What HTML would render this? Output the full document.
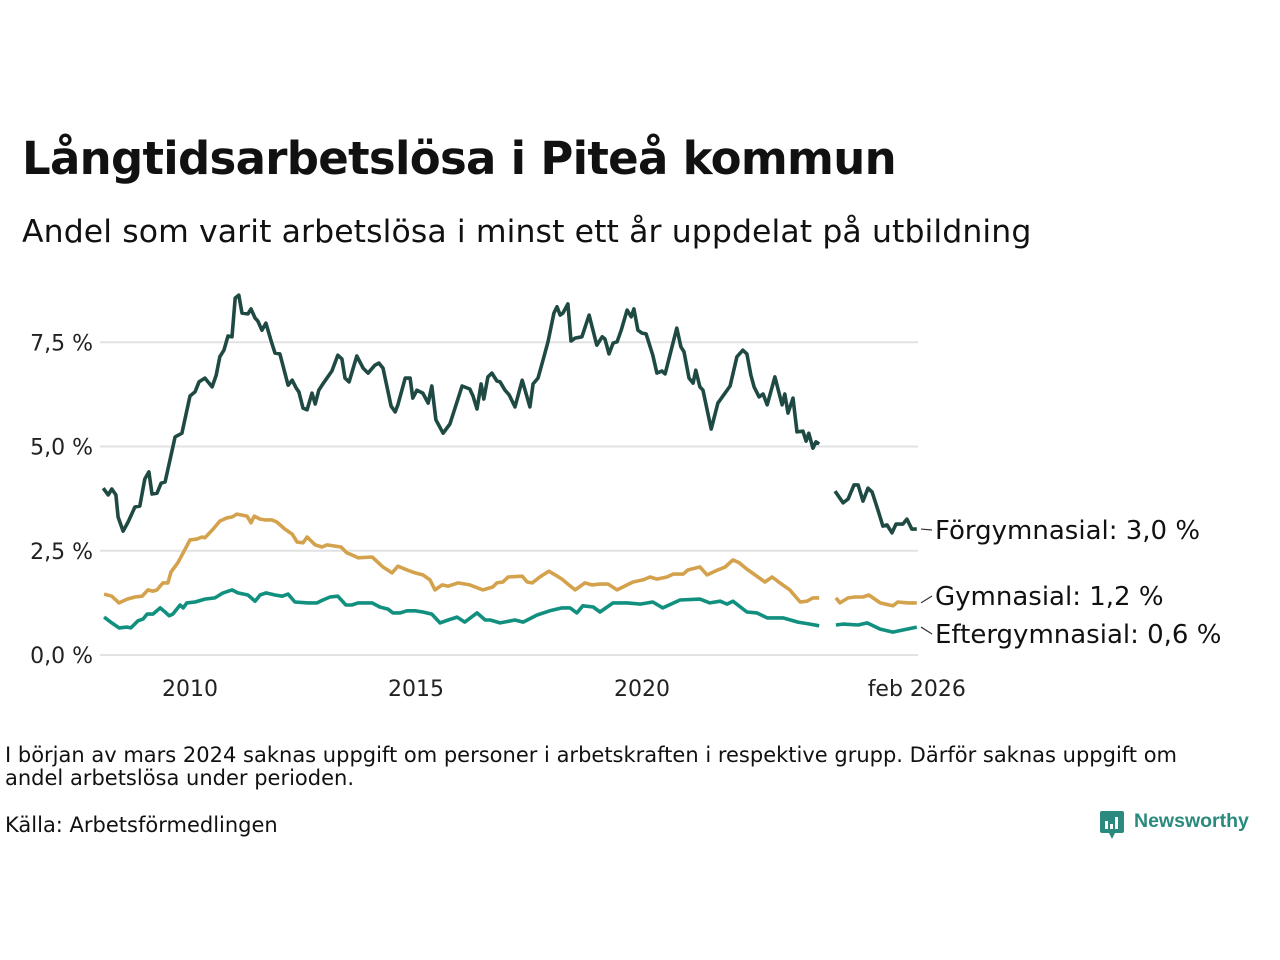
<!DOCTYPE html>
<html><head><meta charset="utf-8"><style>
body{margin:0;background:#fff;width:1280px;height:960px;overflow:hidden;font-family:"Liberation Sans","DejaVu Sans",sans-serif;color:#111}
.t{position:absolute;white-space:nowrap}
</style></head><body>
<div class="t" style="left:22px;top:132px;font-size:45px;font-weight:bold;font-family:'DejaVu Sans',sans-serif;letter-spacing:-0.7px">Långtidsarbetslösa i Piteå kommun</div>
<div class="t" style="left:22px;top:214px;font-size:31.5px;font-family:'DejaVu Sans',sans-serif;letter-spacing:0.1px">Andel som varit arbetslösa i minst ett år uppdelat på utbildning</div>
<svg id="chart" width="1280" height="720" style="position:absolute;left:0;top:0"></svg>
<div class="t" style="left:5px;top:744px;font-size:21px;line-height:23px;font-family:'DejaVu Sans',sans-serif;white-space:normal;width:1235px">I början av mars 2024 saknas uppgift om personer i arbetskraften i respektive grupp. Därför saknas uppgift om andel arbetslösa under perioden.</div>
<div class="t" style="left:5px;top:813px;font-size:21px;font-family:'DejaVu Sans',sans-serif">Källa: Arbetsförmedlingen</div>
<div style="position:absolute;left:1099px;top:810px;height:30px">
<svg width="28" height="30" style="position:absolute;left:0;top:0"><rect x="1" y="1" width="24" height="22" rx="2" fill="#2a8a7e"/><polygon points="10,23 16,23 13,29" fill="#2a8a7e"/><rect x="6" y="11" width="3" height="8" fill="#fff"/><rect x="11" y="14" width="3" height="5" fill="#fff"/><rect x="16" y="7" width="3" height="12" fill="#fff"/></svg>
<span class="t" style="left:35px;top:0;font-size:19.5px;font-weight:bold;color:#2a8a7e;font-family:'Liberation Sans',sans-serif">Newsworthy</span></div>
<script>
const yTicks=[0,2.5,5,7.5];
const yTickLabels=["0,0 %","2,5 %","5,0 %","7,5 %"];
const xTicks=[2010,2015,2020,2026.08];
const xTickLabels=["2010","2015","2020","feb 2026"];
const forgYears=[2008.08,2008.19,2008.27,2008.36,2008.41,2008.52,2008.63,2008.78,2008.89,2009.00,2009.09,2009.16,2009.27,2009.36,2009.45,2009.67,2009.82,2010.00,2010.11,2010.20,2010.33,2010.49,2010.58,2010.66,2010.75,2010.84,2010.93,2011.00,2011.08,2011.15,2011.28,2011.35,2011.44,2011.50,2011.59,2011.68,2011.81,2011.88,2011.99,2012.17,2012.26,2012.35,2012.41,2012.50,2012.59,2012.70,2012.77,2012.85,2012.94,2013.14,2013.27,2013.36,2013.43,2013.52,2013.69,2013.83,2013.94,2014.09,2014.18,2014.27,2014.45,2014.54,2014.60,2014.76,2014.87,2014.93,2015.02,2015.15,2015.27,2015.35,2015.44,2015.60,2015.75,2016.02,2016.19,2016.26,2016.35,2016.44,2016.50,2016.59,2016.68,2016.79,2016.86,2016.97,2017.06,2017.19,2017.35,2017.52,2017.59,2017.70,2017.81,2017.92,2018.05,2018.12,2018.19,2018.25,2018.36,2018.43,2018.52,2018.67,2018.83,2019.00,2019.12,2019.18,2019.27,2019.36,2019.45,2019.54,2019.67,2019.76,2019.82,2019.91,2020.00,2020.09,2020.24,2020.33,2020.44,2020.51,2020.77,2020.86,2020.93,2021.04,2021.13,2021.19,2021.28,2021.35,2021.53,2021.68,2021.81,2021.95,2022.10,2022.23,2022.32,2022.41,2022.48,2022.59,2022.68,2022.77,2022.94,2023.10,2023.16,2023.23,2023.34,2023.43,2023.56,2023.63,2023.69,2023.78,2023.85,2023.92,2024.10,2024.27,2024.45,2024.56,2024.69,2024.78,2024.89,2025.00,2025.09,2025.22,2025.33,2025.42,2025.53,2025.62,2025.77,2025.86,2025.97,2026.08];
const forgValues=[4.00,3.84,3.98,3.84,3.31,2.97,3.19,3.55,3.57,4.22,4.39,3.86,3.88,4.12,4.15,5.23,5.32,6.21,6.31,6.55,6.64,6.43,6.71,7.15,7.31,7.65,7.63,8.56,8.63,8.20,8.18,8.30,8.08,8.01,7.79,7.96,7.48,7.24,7.22,6.47,6.59,6.40,6.31,5.92,5.88,6.28,6.02,6.35,6.50,6.81,7.19,7.10,6.64,6.55,7.17,6.88,6.76,6.95,7.00,6.88,5.97,5.83,6.00,6.64,6.64,6.16,6.35,6.28,6.04,6.45,5.64,5.32,5.54,6.45,6.38,6.21,5.90,6.50,6.14,6.67,6.76,6.57,6.55,6.35,6.24,5.95,6.59,5.95,6.50,6.64,7.07,7.51,8.20,8.35,8.15,8.20,8.42,7.53,7.60,7.63,8.15,7.43,7.63,7.58,7.22,7.48,7.51,7.79,8.27,8.11,8.30,7.79,7.72,7.70,7.19,6.76,6.81,6.74,7.84,7.39,7.27,6.64,6.52,6.83,6.43,6.35,5.42,6.04,6.24,6.45,7.15,7.31,7.22,6.71,6.43,6.19,6.26,6.00,6.67,6.00,6.26,5.80,6.16,5.35,5.37,5.13,5.32,4.96,5.11,5.06,null,3.93,3.65,3.74,4.08,4.08,3.69,4.00,3.91,3.48,3.09,3.12,2.93,3.14,3.14,3.26,3.02,3.02];
const gymYears=[2008.10,2008.27,2008.43,2008.61,2008.78,2008.94,2009.07,2009.18,2009.27,2009.40,2009.51,2009.58,2009.73,2009.85,2010.00,2010.15,2010.27,2010.33,2010.51,2010.66,2010.82,2010.93,2011.04,2011.26,2011.35,2011.42,2011.55,2011.66,2011.81,2011.92,2012.10,2012.26,2012.37,2012.50,2012.59,2012.77,2012.92,2013.03,2013.34,2013.47,2013.58,2013.72,2014.03,2014.27,2014.47,2014.60,2014.80,2014.98,2015.15,2015.31,2015.42,2015.58,2015.71,2015.93,2016.19,2016.48,2016.70,2016.79,2016.92,2017.04,2017.35,2017.46,2017.57,2017.74,2017.94,2018.08,2018.23,2018.36,2018.52,2018.74,2018.89,2019.07,2019.25,2019.45,2019.67,2019.80,2020.02,2020.18,2020.33,2020.55,2020.69,2020.91,2021.02,2021.28,2021.44,2021.68,2021.84,2022.01,2022.15,2022.32,2022.50,2022.72,2022.88,2023.05,2023.27,2023.50,2023.65,2023.78,2023.92,2024.10,2024.29,2024.38,2024.56,2024.71,2024.89,2025.02,2025.27,2025.55,2025.66,2025.88,2026.08];
const gymValues=[1.46,1.41,1.25,1.34,1.39,1.41,1.56,1.53,1.56,1.73,1.73,1.99,2.21,2.45,2.76,2.78,2.83,2.81,3.02,3.21,3.29,3.31,3.38,3.33,3.17,3.33,3.26,3.24,3.24,3.19,3.02,2.90,2.71,2.69,2.83,2.64,2.59,2.64,2.59,2.45,2.40,2.33,2.35,2.11,1.97,2.13,2.04,1.97,1.92,1.80,1.56,1.68,1.65,1.73,1.68,1.56,1.63,1.73,1.75,1.87,1.89,1.75,1.73,1.87,2.01,1.92,1.82,1.70,1.56,1.73,1.68,1.70,1.70,1.56,1.68,1.75,1.80,1.87,1.82,1.87,1.94,1.94,2.04,2.11,1.92,2.04,2.11,2.28,2.21,2.06,1.92,1.75,1.87,1.73,1.56,1.27,1.29,1.37,1.37,null,1.37,1.25,1.37,1.39,1.39,1.44,1.25,1.18,1.27,1.25,1.25];
const eftYears=[2008.10,2008.27,2008.43,2008.61,2008.69,2008.85,2008.96,2009.05,2009.18,2009.34,2009.45,2009.54,2009.62,2009.78,2009.85,2009.93,2010.11,2010.33,2010.55,2010.73,2010.93,2011.06,2011.28,2011.44,2011.55,2011.68,2011.88,2012.04,2012.17,2012.32,2012.61,2012.81,2012.94,2013.10,2013.27,2013.45,2013.58,2013.72,2014.03,2014.20,2014.38,2014.49,2014.65,2014.80,2014.98,2015.15,2015.35,2015.53,2015.71,2015.91,2016.08,2016.35,2016.53,2016.64,2016.86,2017.19,2017.37,2017.68,2017.96,2018.23,2018.41,2018.56,2018.69,2018.92,2019.07,2019.36,2019.67,2019.96,2020.24,2020.46,2020.84,2021.28,2021.50,2021.73,2021.88,2022.01,2022.32,2022.54,2022.77,2023.12,2023.45,2023.72,2023.92,2024.10,2024.29,2024.45,2024.78,2024.98,2025.27,2025.55,2025.77,2026.08];
const eftValues=[0.91,0.77,0.65,0.67,0.65,0.82,0.86,0.98,0.98,1.13,1.03,0.94,0.98,1.20,1.13,1.25,1.27,1.34,1.37,1.49,1.56,1.49,1.44,1.29,1.44,1.49,1.44,1.41,1.46,1.27,1.25,1.25,1.32,1.39,1.41,1.20,1.20,1.25,1.25,1.15,1.10,1.01,1.01,1.06,1.06,1.03,0.98,0.77,0.84,0.91,0.79,1.01,0.84,0.84,0.77,0.84,0.79,0.96,1.06,1.13,1.13,1.01,1.18,1.15,1.03,1.25,1.25,1.22,1.27,1.13,1.32,1.34,1.25,1.29,1.22,1.29,1.03,1.01,0.89,0.89,0.79,0.74,0.70,null,0.72,0.74,0.72,0.77,0.62,0.55,0.60,0.67];
const seriesNames=["Förgymnasial","Gymnasial","Eftergymnasial"];
const lastLabels=["Förgymnasial: 3,0 %","Gymnasial: 1,2 %","Eftergymnasial: 0,6 %"];
const NS="http://www.w3.org/2000/svg";
const svg=document.getElementById('chart');
const X=y=>190+(y-2010)*45.2;
const Y=v=>655-v*41.7;
function mk(tag,attrs){const e=document.createElementNS(NS,tag);for(const k in attrs)e.setAttribute(k,attrs[k]);svg.appendChild(e);return e;}
yTicks.forEach((v,i)=>{
  const g=mk('line',{x1:100,x2:918,y1:Y(v),y2:Y(v),stroke:'#e2e2e4','stroke-width':2});
  
  
  const t=mk('text',{x:93,y:Y(v)+8,'text-anchor':'end','font-size':22,fill:'#222','font-family':'DejaVu Sans, sans-serif'});
  t.textContent=yTickLabels[i];
  
  
});
xTicks.forEach((v,i)=>{
  const t=mk('text',{x:X(v),y:696,'text-anchor':'middle','font-size':22,fill:'#222','font-family':'DejaVu Sans, sans-serif'});
  t.textContent=xTickLabels[i];
  
  
});
const colors=["#1f4a43","#d4a24c","#12907f"];
const all=[[forgYears,forgValues],[gymYears,gymValues],[eftYears,eftValues]];
const labelY=[530,596,634];
all.forEach((s,si)=>{
  let d="",pen=false;
  s[0].forEach((yr,i)=>{const v=s[1][i];if(v===null){pen=false;return;}d+=(pen?"L":"M")+X(yr).toFixed(1)+","+Y(v).toFixed(1);pen=true;});
  const p=mk('path',{d:d,fill:'none',stroke:colors[si],'stroke-width':3.6,'stroke-linejoin':'round'});
  
  
  const lv=s[1][s[1].length-1];
  const c=mk('line',{x1:921,y1:Y(lv),x2:932,y2:labelY[si],stroke:'#333','stroke-width':1.2});
  
  
  const t=mk('text',{x:935,y:labelY[si]+9,'font-size':26,fill:'#111','font-family':'DejaVu Sans, sans-serif'});
  t.textContent=lastLabels[si];
  
  
});
</script>
</body></html>
